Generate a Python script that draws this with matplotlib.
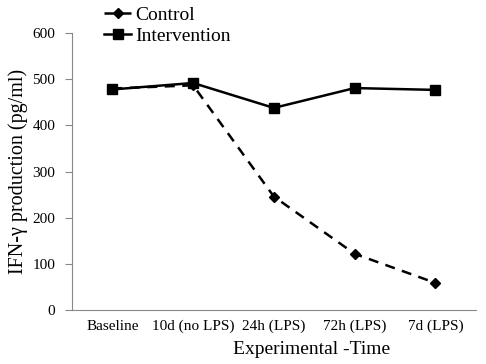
import matplotlib.pyplot as plt
import numpy as np

plt.rcParams['font.family'] = ['Liberation Serif', 'DejaVu Serif']

categories = ['Baseline', '10d (no LPS)', '24h (LPS)', '72h (LPS)', '7d (LPS)']
control = [480, 487, 246, 122, 59]
intervention = [478, 492, 438, 481, 477]

fig = plt.figure(figsize=(4.86, 3.64), dpi=100)
ax = fig.add_axes([0.148, 0.148, 0.831, 0.761])

x = np.arange(len(categories))
ax.plot(x, control, color='black', linestyle=(0, (4, 3)), linewidth=1.8,
        marker='D', markersize=5, label='Control')
ax.plot(x, intervention, color='black', linestyle='-', linewidth=1.8,
        marker='s', markersize=7, label='Intervention')

ax.set_xlim(-0.5, len(categories) - 0.5)
ax.set_ylim(0, 600)
ax.set_yticks(range(0, 601, 100))
ax.set_xticks(x)
ax.set_xticklabels(categories, fontsize=11)
ax.tick_params(axis='y', labelsize=11, direction='out', length=5, color='#888888', pad=7)
ax.tick_params(axis='x', length=0, pad=7)

for s in ['top', 'right']:
    ax.spines[s].set_visible(False)
for s in ['left', 'bottom']:
    ax.spines[s].set_color('#888888')

ax.set_xlabel('Experimental -Time', fontsize=14)
ax.xaxis.set_label_coords(0.594, -0.113)
ax.set_ylabel('IFN-\u03b3 production (pg/ml)', fontsize=14.5, labelpad=3)

fig.legend(loc='upper left', bbox_to_anchor=(0.198, 1.005), frameon=False,
           fontsize=14, handlelength=1.4, handletextpad=0.2, labelspacing=0.2,
           borderaxespad=0)

fig.savefig('out.png', dpi=100)
